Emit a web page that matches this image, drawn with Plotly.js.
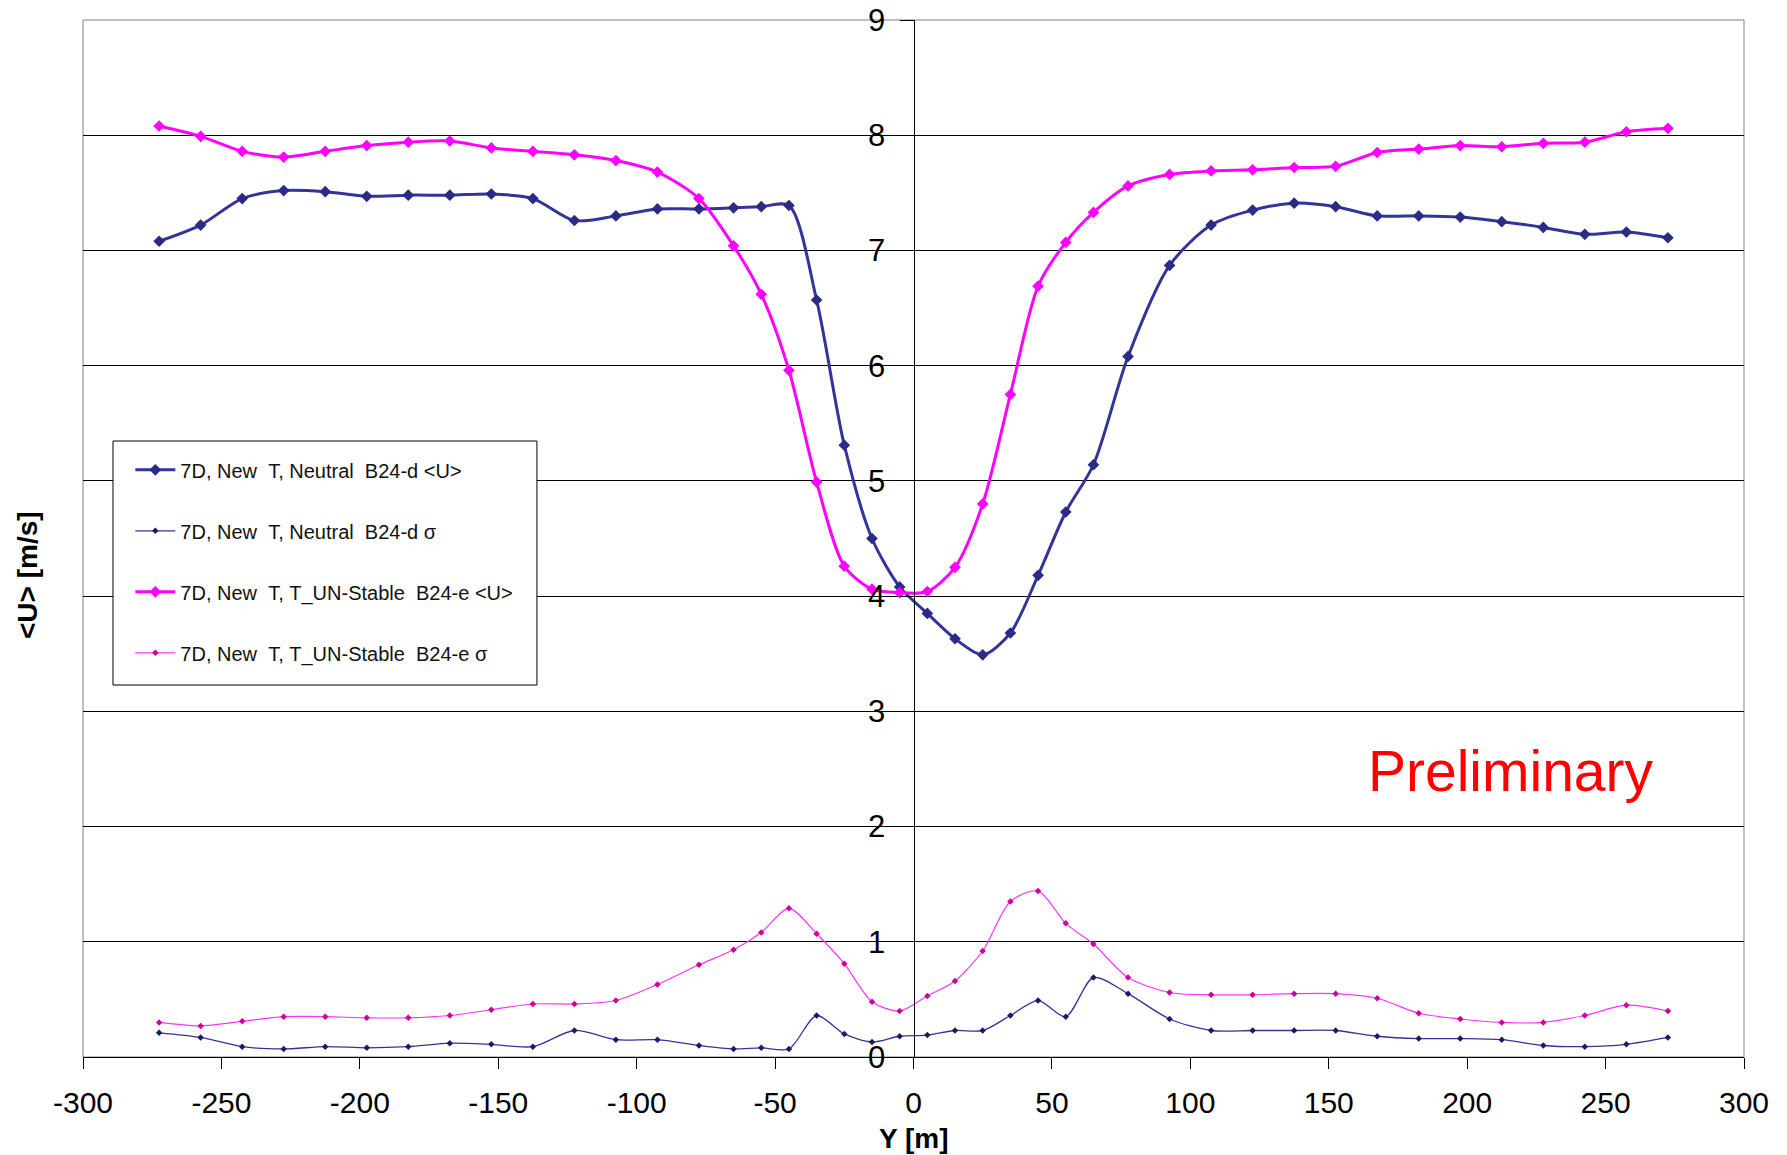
<!DOCTYPE html>
<html>
<head>
<meta charset="utf-8">
<script src="https://cdn.plot.ly/plotly-3.0.1.min.js"></script>
<style>html,body{margin:0;padding:0;background:#fff;}#chart{width:1787px;height:1155px;}</style>
</head>
<body>
<div id="chart"></div>
<script>
// Y positions [m]
var yPos = [-272.5,-257.5,-242.5,-227.5,-212.5,-197.5,-182.5,-167.5,-152.5,-137.5,-122.5,-107.5,-92.5,-77.5,
  -65,-55,-45,-35,-25,-15,-5,5,15,25,35,45,55,65,
  77.5,92.5,107.5,122.5,137.5,152.5,167.5,182.5,197.5,212.5,227.5,242.5,257.5,272.5];

// 7D, New T, Neutral B24-d <U>
var neutralU = [7.08,7.22,7.45,7.52,7.51,7.47,7.48,7.48,7.49,7.45,7.26,7.30,7.36,7.36,
  7.37,7.38,7.39,6.57,5.31,4.50,4.08,3.85,3.63,3.49,3.68,4.18,4.73,5.14,
  6.08,6.87,7.22,7.35,7.41,7.38,7.30,7.30,7.29,7.25,7.20,7.14,7.16,7.11];

// 7D, New T, Neutral B24-d sigma
var neutralSigma = [0.21,0.17,0.09,0.07,0.09,0.08,0.09,0.12,0.11,0.09,0.23,0.15,0.15,0.10,
  0.07,0.08,0.07,0.36,0.20,0.13,0.18,0.19,0.23,0.23,0.36,0.49,0.35,0.69,
  0.55,0.33,0.23,0.23,0.23,0.23,0.18,0.16,0.16,0.15,0.10,0.09,0.11,0.17];

// 7D, New T, T_UN-Stable B24-e <U>
var unstableU = [8.08,7.99,7.86,7.81,7.86,7.91,7.94,7.95,7.89,7.86,7.83,7.78,7.68,7.45,
  7.04,6.62,5.96,4.99,4.26,4.06,4.03,4.04,4.25,4.80,5.75,6.69,7.07,7.33,
  7.56,7.66,7.69,7.70,7.72,7.73,7.85,7.88,7.91,7.90,7.93,7.94,8.03,8.06];

// 7D, New T, T_UN-Stable B24-e sigma
var unstableSigma = [0.30,0.27,0.31,0.35,0.35,0.34,0.34,0.36,0.41,0.46,0.46,0.49,0.63,0.80,
  0.93,1.08,1.29,1.07,0.81,0.48,0.40,0.53,0.66,0.92,1.35,1.44,1.16,0.98,
  0.69,0.56,0.54,0.54,0.55,0.55,0.51,0.38,0.33,0.30,0.30,0.36,0.45,0.40];

var seriesNames = [
  "7D,\u00a0New\u00a0\u00a0T,\u00a0Neutral\u00a0\u00a0B24-d\u00a0&lt;U&gt;",
  "7D,\u00a0New\u00a0\u00a0T,\u00a0Neutral\u00a0\u00a0B24-d\u00a0σ",
  "7D,\u00a0New\u00a0\u00a0T,\u00a0T_UN-Stable\u00a0\u00a0B24-e\u00a0&lt;U&gt;",
  "7D,\u00a0New\u00a0\u00a0T,\u00a0T_UN-Stable\u00a0\u00a0B24-e\u00a0σ"
];
var xTickVals = [-300,-250,-200,-150,-100,-50,0,50,100,150,200,250,300];
var yTickVals = [0,1,2,3,4,5,6,7,8,9];

var FONT = "Liberation Sans, Arial, sans-serif";

var traces = [
  {x: yPos, y: neutralU, name: seriesNames[0], legendgroup: "a", mode: "lines+markers",
   line: {color: "#333399", width: 3, shape: "spline", smoothing: 0.8},
   marker: {symbol: "diamond", size: 9, color: "#2b2b85"}},
  {x: yPos, y: neutralSigma, name: seriesNames[1], legendgroup: "b", mode: "lines+markers",
   line: {color: "#333399", width: 1.3, shape: "spline", smoothing: 0.8},
   marker: {symbol: "diamond", size: 5, color: "#1a1a66"}},
  {x: yPos, y: unstableU, name: seriesNames[2], legendgroup: "c", mode: "lines+markers",
   line: {color: "#ff00ff", width: 3, shape: "spline", smoothing: 0.8},
   marker: {symbol: "diamond", size: 9, color: "#ff00ff"}},
  {x: yPos, y: unstableSigma, name: seriesNames[3], legendgroup: "d", mode: "lines+markers",
   line: {color: "#ff33ff", width: 1.2, shape: "spline", smoothing: 0.8},
   marker: {symbol: "diamond", size: 5, color: "#cc0099"}}
];

var layout = {
  width: 1787, height: 1155,
  margin: {l: 83, r: 43, t: 20, b: 98},
  paper_bgcolor: "#ffffff", plot_bgcolor: "#ffffff",
  font: {family: FONT, color: "#000"},
  showlegend: true,
  legend: {
    x: 0.0285, y: 0.585, xanchor: "left", yanchor: "top",
    bgcolor: "rgba(0,0,0,0)", borderwidth: 0,
    font: {family: FONT, size: 20, color: "#111"},
    tracegroupgap: 32, itemwidth: 40
  },
  xaxis: {
    range: [-300, 300], tickvals: xTickVals, ticktext: xTickVals.map(String),
    showgrid: false, zeroline: false, showline: true, linecolor: "#000", linewidth: 1,
    ticks: "outside", ticklen: 11, tickcolor: "#000", ticklabelstandoff: 8,
    tickfont: {family: FONT, size: 30, color: "#000"}
  },
  yaxis: {
    range: [0, 9], tickvals: yTickVals, ticktext: yTickVals.map(String),
    anchor: "free", position: 0.5,
    showgrid: true, gridcolor: "#000", gridwidth: 1,
    zeroline: false, showline: true, linecolor: "#000", linewidth: 1,
    ticks: "outside", ticklen: 14, tickcolor: "#000", ticklabelstandoff: 8,
    tickfont: {family: FONT, size: 31, color: "#000"}
  },
  shapes: [
    {type: "rect", xref: "paper", yref: "paper", x0: 0, x1: 1, y0: 0, y1: 1,
     line: {color: "#808080", width: 1}, fillcolor: "rgba(0,0,0,0)", layer: "below"},
    {type: "rect", xref: "paper", yref: "paper", x0: 0.01806, x1: 0.2733, y0: 0.3587, y1: 0.594,
     line: {color: "#000", width: 1}, fillcolor: "#ffffff", layer: "above"}
  ],
  annotations: [
    {text: "&lt;U&gt; [m/s]", xref: "paper", yref: "paper", x: -0.0435, y: 0.465,
     textangle: -90, showarrow: false, font: {family: FONT, size: 28, color: "#000", weight: "bold"}},
    {text: "Y [m]", xref: "paper", yref: "paper", x: 0.5, y: -0.079, xanchor: "center", yanchor: "middle",
     showarrow: false, font: {family: FONT, size: 28, color: "#000", weight: "bold"}},
    {text: "Preliminary", xref: "paper", yref: "paper", x: 0.8597, y: 0.276, xanchor: "center", yanchor: "middle",
     showarrow: false, font: {family: FONT, size: 57, color: "#ff0000"}}
  ]
};

Plotly.newPlot("chart", traces, layout, {displayModeBar: false, staticPlot: true});
</script>
</body>
</html>
